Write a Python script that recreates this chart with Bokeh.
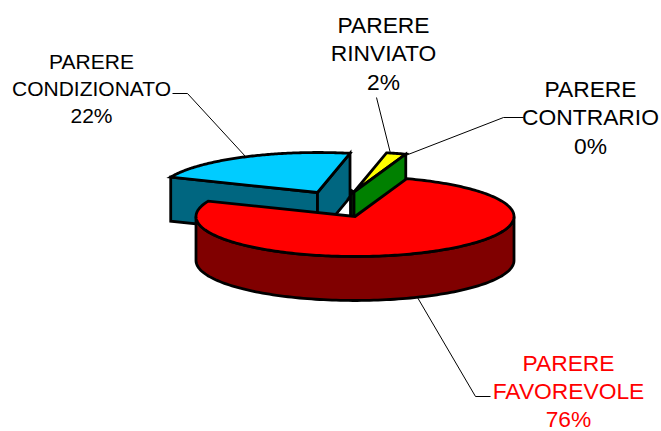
import numpy as np
from bokeh.plotting import figure
from bokeh.core.properties import value
from bokeh.embed import file_html
from bokeh.resources import INLINE

# Data
slice_names = ["PARERE FAVOREVOLE", "PARERE CONDIZIONATO", "PARERE RINVIATO", "PARERE CONTRARIO"]
slice_values = [76, 22, 2, 0]
top_colors = ["#FF0000", "#00CCFF", "#FFFF00", "#008000"]
wall_colors = ["#800000", "#006680", "#808000", "#008000"]
label_lines = [["PARERE", "FAVOREVOLE", "76%"],
               ["PARERE", "CONDIZIONATO", "22%"],
               ["PARERE", "RINVIATO", "2%"],
               ["PARERE", "CONTRARIO", "0%"]]
label_colors = ["#FF0000", "#000000", "#000000", "#000000"]

# Layout (pixel coordinates of the page)
A, B, DEPTH = 159.0, 40.0, 44.0
START = 71.0
centers = [(354.5, 216.0), (317.0, 192.0), (353.5, 191.5), (353.5, 191.5)]
label_pos = [(568, 362.5), (91, 61), (383, 24), (590, 88)]
label_sizes = ["22.8px", "21px", "22.8px", "22.8px"]
line_heights = [28, 27, 28.5, 28.5]
leaders = [
    ([490, 475, 417], [396, 396, 297]),
    ([172, 187, 245], [93, 93, 156]),
    ([376, 390], [97, 153]),
    ([523, 503, 405], [117, 117, 155]),
]

p = figure(width=661, height=431, x_range=(0, 661), y_range=(431, 0),
           toolbar_location=None, output_backend="svg", min_border=0)
p.axis.visible = False
p.grid.visible = False
p.outline_line_color = None
p.background_fill_color = "white"


def arc(c, t0, t1, dy=0.0, n=120):
    t = np.radians(np.linspace(t0, t1, n))
    return c[0] + A * np.cos(t), c[1] - B * np.sin(t) + dy


# slice angle spans, clockwise from START
spans = []
a = START
for v in slice_values:
    spans.append((a, a - v * 3.6))
    a -= v * 3.6
RED, BLUE, YEL, GRN = 0, 1, 2, 3


def patch(xs, ys, color):
    p.patch(list(xs), list(ys), fill_color=color, line_color="black", line_width=2.8, line_join="miter")


def corner(c, t, dy=0.0):
    x, y = arc(c, t, t, dy, 1)
    return x[0], y[0]


# Condizionato: walls, then top
c = centers[BLUE]
t0, t1 = spans[BLUE]
left_t = t0 % 360
right_t = t1 % 360
lx, ly = corner(c, left_t)
rx, ry = corner(c, right_t)
patch([lx, c[0], c[0], lx], [ly, c[1], c[1] + DEPTH, ly + DEPTH], wall_colors[BLUE])
patch([c[0], rx, rx, c[0]], [c[1], ry, ry + DEPTH, c[1] + DEPTH], wall_colors[BLUE])
ax, ay = arc(c, left_t, right_t)
patch(np.r_[c[0], ax], np.r_[c[1], ay], top_colors[BLUE])

# Rinviato / contrario: narrow stub, top, wall
c = centers[YEL]
t0, t1 = spans[YEL]
patch([c[0] - 3.5, c[0], c[0], c[0] - 3.5], [c[1] - 2, c[1], c[1] + DEPTH, c[1] + DEPTH - 2], "#004000")
ax, ay = arc(c, t0, t1, n=12)
patch(np.r_[c[0], ax], np.r_[c[1], ay], top_colors[YEL])
gx, gy = corner(c, t1)
patch([c[0], gx, gx, c[0]], [c[1], gy, gy + DEPTH, c[1] + DEPTH], wall_colors[GRN])

# Favorevole: wall, then top
c = centers[RED]
t0, t1 = spans[RED]
wx1, wy1 = arc(c, 180, 360)
wx2, wy2 = arc(c, 360, 180, DEPTH)
patch(np.r_[wx1, wx2], np.r_[wy1, wy2], wall_colors[RED])
ax, ay = arc(c, t0, t1, n=240)
patch(np.r_[c[0], ax], np.r_[c[1], ay], top_colors[RED])

# Leader lines
for xs, ys in leaders:
    p.line(xs, ys, line_color="black", line_width=1)

# Labels
for lines, (lx, ly), col, size, lh in zip(label_lines, label_pos, label_colors, label_sizes, line_heights):
    for i, s in enumerate(lines):
        p.text([lx], [ly + i * lh], text=[s], text_color=col,
               text_font=value("Liberation Sans"), text_font_size=size,
               text_align="center", text_baseline="middle")

open("out.html", "w").write(file_html(p, INLINE))
